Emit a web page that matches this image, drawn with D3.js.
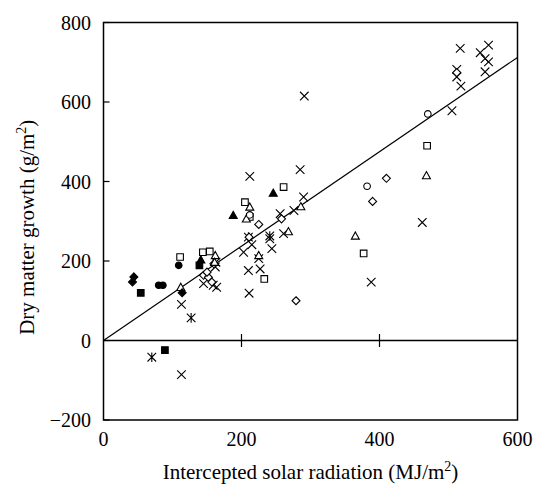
<!DOCTYPE html>
<html>
<head>
<meta charset="utf-8">
<script src="https://cdn.jsdelivr.net/npm/d3@7"></script>
<style>
body { margin: 0; background: #fff; }
text { font-family: "Liberation Serif", "DejaVu Serif", serif; fill: #000; }
</style>
</head>
<body>
<svg id="chart" width="535" height="486"></svg>
<script>
// axis setup
var xTicks = [0, 200, 400, 600];
var yTicks = [-200, 0, 200, 400, 600, 800];
var xTitle = "Intercepted solar radiation (MJ/m";
var yTitle = "Dry matter growth (g/m";

// fitted line through origin
var lineSlope = 1.187;

// each series: [x, y] pairs
var crosses = [
	[212,413],[285,430],[291,615],[290,361],[276,327],[256,319],[261,269],[241,256],[244,231],
	[203,222],[215,241],[210,176],[211,119],[227,180],[225,206],[462,297],[388,147],[505,578],
	[517,735],[512,682],[512,663],[518,640],[546,724],[553,709],[558,743],[558,701],[553,676],
	[113,91],[113,-86],[163,197],[162,185],[164,134],[145,143],[159,139]
];
var stars = [[127,57],[70,-42],[210,260],[241,263]];
var openDiamonds = [
	[225,292],[258,306],[279,100],[390,350],[410,408],[512,674],[145,164],[152,159],
	[157,147],[150,172],[160,193],[211,260]
];
var openSquares = [[111,210],[144,222],[154,224],[205,348],[261,386],[212,311],[233,155],[377,219],[469,490]];
var openTriangles = [
	[112,134],[162,214],[212,336],[207,306],[225,214],[268,274],[286,337],[365,263],[468,415],[161,197]
];
var openCircles = [[470,570],[382,388],[212,316]];
var filledDiamonds = [[44,160],[42,147],[114,120]];
var filledSquares = [[54,120],[89,-24],[139,189]];
var filledTriangles = [[188,315],[246,371],[141,203]];
var filledCircles = [[109,189],[80,139],[86,139]];

var series = [
	{shape: "cross", fill: false, pts: crosses},
	{shape: "star", fill: false, pts: stars},
	{shape: "diamond", fill: false, pts: openDiamonds},
	{shape: "square", fill: false, pts: openSquares},
	{shape: "triangle", fill: false, pts: openTriangles},
	{shape: "circle", fill: false, pts: openCircles},
	{shape: "diamond", fill: true, pts: filledDiamonds},
	{shape: "square", fill: true, pts: filledSquares},
	{shape: "triangle", fill: true, pts: filledTriangles},
	{shape: "circle", fill: true, pts: filledCircles}
];

var mLeft = 103.5, mRight = 517.5, mTop = 22.5, mBottom = 420;

var x = d3.scaleLinear().domain([0, 600]).range([mLeft, mRight]);
var y = d3.scaleLinear().domain([-200, 800]).range([mBottom, mTop]);

var svg = d3.select("#chart");

function markerPath(shape) {
	var p = d3.path();
	if (shape == "cross") {
		var s = 4.3;
		p.moveTo(-s,-s); p.lineTo(s,s); p.moveTo(-s,s); p.lineTo(s,-s);
	} else if (shape == "star") {
		var s = 4.3;
		p.moveTo(-s,-s); p.lineTo(s,s); p.moveTo(-s,s); p.lineTo(s,-s);
		p.moveTo(0,-s-0.5); p.lineTo(0,s+0.5);
	} else if (shape == "diamond") {
		var s = 4;
		p.moveTo(0,-s); p.lineTo(s,0); p.lineTo(0,s); p.lineTo(-s,0); p.closePath();
	} else if (shape == "square") {
		var s = 3.3;
		p.rect(-s,-s,2*s,2*s);
	} else if (shape == "triangle") {
		var s = 4;
		p.moveTo(0,-s); p.lineTo(s,s*0.8); p.lineTo(-s,s*0.8); p.closePath();
	} else {
		p.arc(0,0,3.3,0,2*Math.PI);
	}
	return p.toString();
}

// frame
svg.append("rect")
	.attr("x", mLeft).attr("y", mTop)
	.attr("width", mRight - mLeft).attr("height", mBottom - mTop)
	.attr("fill", "none").attr("stroke", "#000").attr("stroke-width", 1.5);

// zero line with ticks crossing it
var xAxis = svg.append("g").attr("transform", "translate(0," + y(0) + ")");
xAxis.append("line")
	.attr("x1", mLeft).attr("x2", mRight)
	.attr("stroke", "#000").attr("stroke-width", 1.5);
xAxis.selectAll(".xt")
	.data(xTicks.filter(function(d){ return d > 0 && d < 600; }))
	.join("line")
	.attr("x1", function(d){ return x(d); })
	.attr("x2", function(d){ return x(d); })
	.attr("y1", -6.5).attr("y2", 6.5)
	.attr("stroke", "#000").attr("stroke-width", 1.2);

// y ticks pointing inwards
svg.selectAll(".yt")
	.data(yTicks)
	.join("line")
	.attr("x1", mLeft).attr("x2", mLeft + 6)
	.attr("y1", function(d){ return y(d); })
	.attr("y2", function(d){ return y(d); })
	.attr("stroke", "#000").attr("stroke-width", 1.2);

svg.selectAll(".ylab")
	.data(yTicks)
	.join("text")
	.attr("x", 91)
	.attr("y", function(d){ return y(d) + 7; })
	.attr("text-anchor", "end")
	.attr("font-size", "20px")
	.text(function(d){ return d < 0 ? "\u2212" + Math.abs(d) : d; });

svg.selectAll(".xlab")
	.data(xTicks)
	.join("text")
	.attr("x", function(d){ return x(d); })
	.attr("y", 446)
	.attr("text-anchor", "middle")
	.attr("font-size", "20px")
	.text(function(d){ return d; });

// regression line
svg.append("line")
	.attr("x1", x(0)).attr("y1", y(0))
	.attr("x2", x(600)).attr("y2", y(600 * lineSlope))
	.attr("stroke", "#000").attr("stroke-width", 1.2);

// points
series.forEach(function(s) {
	svg.append("g").selectAll("path")
		.data(s.pts)
		.join("path")
		.attr("d", markerPath(s.shape))
		.attr("transform", function(d){ return "translate(" + x(d[0]) + "," + y(d[1]) + ")"; })
		.attr("fill", s.fill ? "#000" : (s.shape == "cross" || s.shape == "star" ? "none" : "#fff"))
		.attr("stroke", "#000")
		.attr("stroke-width", 1.1);
});

// axis titles
var xt = svg.append("text")
	.attr("x", (mLeft + mRight) / 2)
	.attr("y", 479)
	.attr("text-anchor", "middle")
	.attr("font-size", "21px");
xt.append("tspan").text(xTitle);
xt.append("tspan").attr("font-size", "14px").attr("dy", -8).text("2");
xt.append("tspan").attr("dy", 8).text(")");

var yt = svg.append("text")
	.attr("transform", "translate(34," + ((mTop + mBottom) / 2 + 6) + ") rotate(-90)")
	.attr("text-anchor", "middle")
	.attr("font-size", "21px");
yt.append("tspan").text(yTitle);
yt.append("tspan").attr("font-size", "14px").attr("dy", -8).text("2");
yt.append("tspan").attr("dy", 8).text(")");
</script>
</body>
</html>
